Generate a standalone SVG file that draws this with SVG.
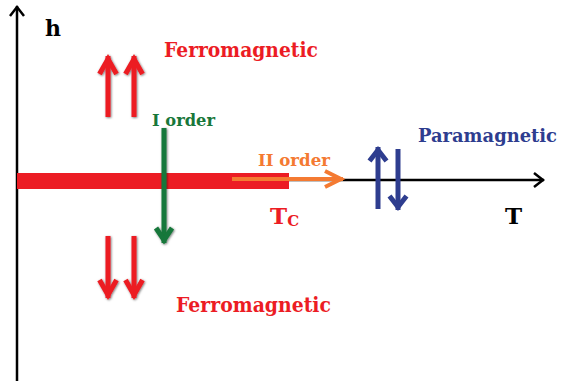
<svg xmlns="http://www.w3.org/2000/svg" width="567" height="383" viewBox="0 0 567 383">
<style>
text{font-family:"DejaVu Serif","Liberation Serif",serif;font-weight:bold}
.red{fill:#ec1c24}.green{fill:#18773a}.orange{fill:#f47a32}.blue{fill:#2e3d8f}.black{fill:#000}
.ax{stroke:#000;stroke-width:2.5;fill:none}
.sr{stroke:#ec1c24;stroke-width:5;fill:none}
.sg{stroke:#18773a;stroke-width:5;fill:none}
.so{stroke:#f47a32;stroke-width:4;fill:none}
.sb{stroke:#2e3d8f;stroke-width:5;fill:none}
</style>
<defs>
<filter id="sh" x="-50%" y="-50%" width="200%" height="200%">
<feDropShadow dx="0.8" dy="0.8" stdDeviation="1.2" flood-color="#000" flood-opacity="0.55"/>
</filter>
<marker id="mk" markerUnits="userSpaceOnUse" viewBox="-14 -10 16 20" refX="0" refY="0" markerWidth="16" markerHeight="20" orient="auto" overflow="visible">
<path d="M-10,-7 L-1,0 L-10,7" fill="none" stroke="#000" stroke-width="2.5"/>
</marker>
<marker id="mr" markerUnits="userSpaceOnUse" viewBox="-24 -14 26 28" refX="0" refY="0" markerWidth="26" markerHeight="28" orient="auto" overflow="visible">
<path d="M-18,-8.5 L-3,0 L-18,8.5" fill="none" stroke="#ec1c24" stroke-width="5"/>
</marker>
<marker id="mg" markerUnits="userSpaceOnUse" viewBox="-24 -14 26 28" refX="0" refY="0" markerWidth="26" markerHeight="28" orient="auto" overflow="visible">
<path d="M-15,-8 L-3,0 L-15,8" fill="none" stroke="#18773a" stroke-width="5"/>
</marker>
<marker id="mo" markerUnits="userSpaceOnUse" viewBox="-24 -14 26 28" refX="0" refY="0" markerWidth="26" markerHeight="28" orient="auto" overflow="visible">
<path d="M-18,-8 L-2,0 L-18,8" fill="none" stroke="#f47a32" stroke-width="4"/>
</marker>
<marker id="mb" markerUnits="userSpaceOnUse" viewBox="-24 -14 26 28" refX="0" refY="0" markerWidth="26" markerHeight="28" orient="auto" overflow="visible">
<path d="M-14,-8.5 L-3,0 L-14,8.5" fill="none" stroke="#2e3d8f" stroke-width="5"/>
</marker>
</defs>

<g id="axes">
<line class="ax" x1="17" y1="381" x2="17" y2="6" marker-end="url(#mk)"/>
<line class="ax" x1="17" y1="180" x2="544" y2="180" marker-end="url(#mk)"/>
</g>

<g id="first-order-line">
<rect x="17" y="173" width="272" height="16" fill="#ec1c24"/>
</g>

<g id="connectors">
<line class="so" x1="232" y1="179" x2="343" y2="179" marker-end="url(#mo)"/>
<g filter="url(#sh)">
<line class="sg" x1="164" y1="128" x2="164" y2="243" marker-end="url(#mg)"/>
<line class="sr" x1="108" y1="117" x2="108" y2="56" marker-end="url(#mr)"/>
<line class="sr" x1="134" y1="117" x2="134" y2="56" marker-end="url(#mr)"/>
<line class="sr" x1="108" y1="236" x2="108" y2="298" marker-end="url(#mr)"/>
<line class="sr" x1="134" y1="236" x2="134" y2="298" marker-end="url(#mr)"/>
</g>
<line class="sb" x1="378" y1="209" x2="378" y2="147" marker-end="url(#mb)"/>
<line class="sb" x1="398" y1="149" x2="398" y2="210" marker-end="url(#mb)"/>
</g>

<g id="label-h"><text class="black" x="45" y="36" font-size="22">h</text></g>
<g id="label-ferro-top"><text class="red" x="164" y="57" font-size="20.5" textLength="154" lengthAdjust="spacingAndGlyphs">Ferromagnetic</text></g>
<g id="label-I-order"><text class="green" x="152" y="126" font-size="16" textLength="63" lengthAdjust="spacingAndGlyphs">I order</text></g>
<g id="label-II-order"><text class="orange" x="258" y="166" font-size="16.5" textLength="72" lengthAdjust="spacingAndGlyphs">II order</text></g>
<g id="label-para"><text class="blue" x="418" y="142" font-size="19" textLength="139" lengthAdjust="spacingAndGlyphs">Paramagnetic</text></g>
<g id="label-Tc"><text class="red" x="270" y="224" font-size="23">T<tspan font-size="15" dy="2">C</tspan></text></g>
<g id="label-T"><text class="black" x="505" y="224" font-size="23">T</text></g>
<g id="label-ferro-bottom"><text class="red" x="176" y="312" font-size="20" textLength="155" lengthAdjust="spacingAndGlyphs">Ferromagnetic</text></g>
</svg>
